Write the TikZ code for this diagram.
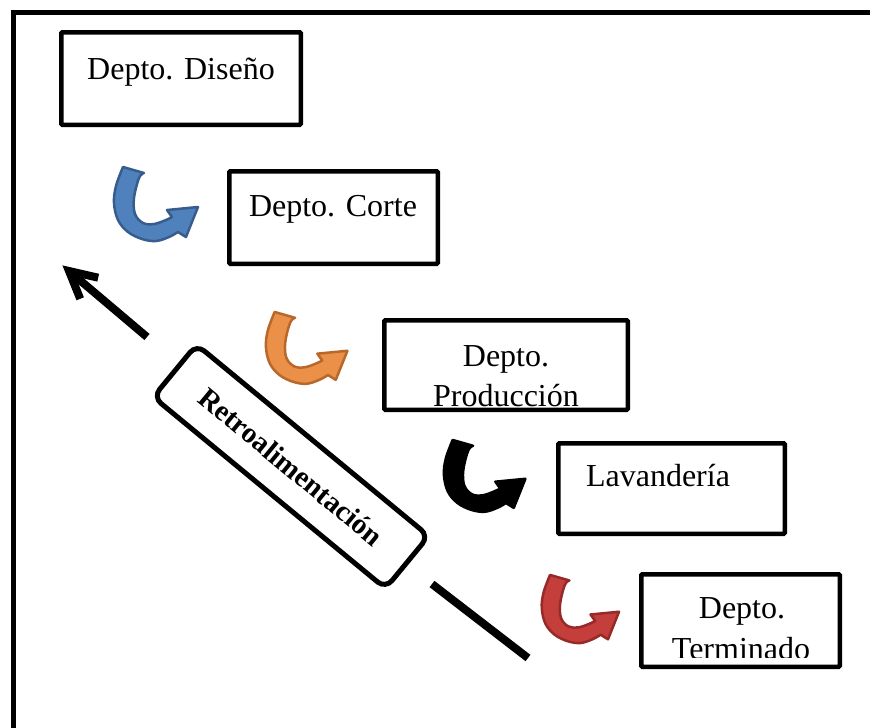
\documentclass[tikz,border=0pt]{standalone}
\usepackage{fontspec}
\setmainfont{Liberation Serif}
\usetikzlibrary{calc}

\definecolor{blueline}{RGB}{56,93,140}
\definecolor{bluefill}{RGB}{79,129,189}
\definecolor{orangeline}{RGB}{184,104,42}
\definecolor{orangefill}{RGB}{234,144,72}
\definecolor{redline}{RGB}{150,42,40}
\definecolor{redfill}{RGB}{196,62,60}

\tikzset{
  deptbox/.style={draw, line width=4.5pt, rounded corners=1pt, inner sep=0pt},
  depttext/.style={inner sep=0pt, anchor=base, font=\fontsize{32}{38}\selectfont},
  retrobox/.style={draw, line width=5pt, rounded corners=10pt, minimum width=301pt,
    minimum height=68pt, inner sep=0pt, font=\bfseries\fontsize{29}{33}\selectfont},
  fbline/.style={line width=8pt},
  % curved hand-off arrow between departments (local units: px, y downwards)
  pics/curvarrow/.style 2 args={code={
    \filldraw[fill=#1, draw=#2, line width=2.5pt, line join=round]
      plot[smooth, tension=0.6] coordinates {(12,1) (5,20) (3,37) (7,54) (17,66) (31,73) (45,75) (58,71) (67,66)}
      -- (75,71) -- (87,41) -- (56,44) -- (61,51)
      -- plot[smooth, tension=0.6] coordinates {(61,51) (55,54) (43,58) (32,57) (24,48) (23,32) (28,12) (33,7)}
      -- cycle;
  }}
}

\begin{document}
\begin{tikzpicture}[x=1pt, y=-1pt]
\useasboundingbox (0,0) rectangle (870,728);

% outer frame (runs off the right and bottom edges)
\begin{scope}
  \clip (0,0) rectangle (870,728);
  \draw[line width=5pt] (13.5,740) -- (13.5,12.5) -- (880,12.5);
\end{scope}

% department boxes
\node[deptbox, minimum width=239.5pt, minimum height=92.5pt] (diseno) at (181,78.5) {};
\node[deptbox, minimum width=208.5pt, minimum height=92.5pt] (corte) at (333.5,217.5) {};
\node[deptbox, minimum width=243.5pt, minimum height=89.5pt] (produccion) at (506,365) {};
\node[deptbox, minimum width=226.5pt, minimum height=90.5pt] (lavanderia) at (671.5,488.5) {};
\node[deptbox, minimum width=198.5pt, minimum height=92.5pt] (terminado) at (740.5,620.5) {};

% box texts
\node[depttext] (diseno-t) at (181,79) {Depto. Diseño};
\node[depttext] (corte-t) at (333,216) {Depto. Corte};
\node[depttext] (produccion-t1) at (506,366) {Depto.};
\begin{scope}
  \clip (382,318) rectangle (630,406);
  \node[depttext] (produccion-t2) at (506,406.5) {Producción};
\end{scope}
\node[depttext] (lavanderia-t) at (658,486) {Lavandería};
\node[depttext] (terminado-t1) at (742,618) {Depto.};
\begin{scope}
  \clip (639,572) rectangle (842,657);
  \node[depttext] (terminado-t2) at (741,659) {Terminado};
\end{scope}

% curved arrows between the steps
\pic at (111,166) {curvarrow={bluefill}{blueline}};
\pic[scale=0.97] at (263,311) {curvarrow={orangefill}{orangeline}};
\pic[scale=0.97] at (441,439) {curvarrow={black}{black}};
\pic[scale=0.92] at (539,574) {curvarrow={redfill}{redline}};

% feedback
\node[retrobox, rotate=-39.5] (retro) at (291,466.5) {Retroalimentación};

\coordinate (fbstart) at (147,337);
\coordinate (fbtip) at (69,271);
\coordinate (fbbarb1) at ($(fbtip)+(29.2,6.7)$);
\coordinate (fbbarb2) at ($(fbtip)+(11.2,27.8)$);
\draw[fbline] (fbstart) -- (fbtip);
\draw[fbline, miter limit=10] (fbbarb1) -- (fbtip) -- (fbbarb2);

\coordinate (fbfrom) at (432,584);
\coordinate (fbto) at (528,658);
\draw[fbline] (fbfrom) -- (fbto);
\end{tikzpicture}
\end{document}
